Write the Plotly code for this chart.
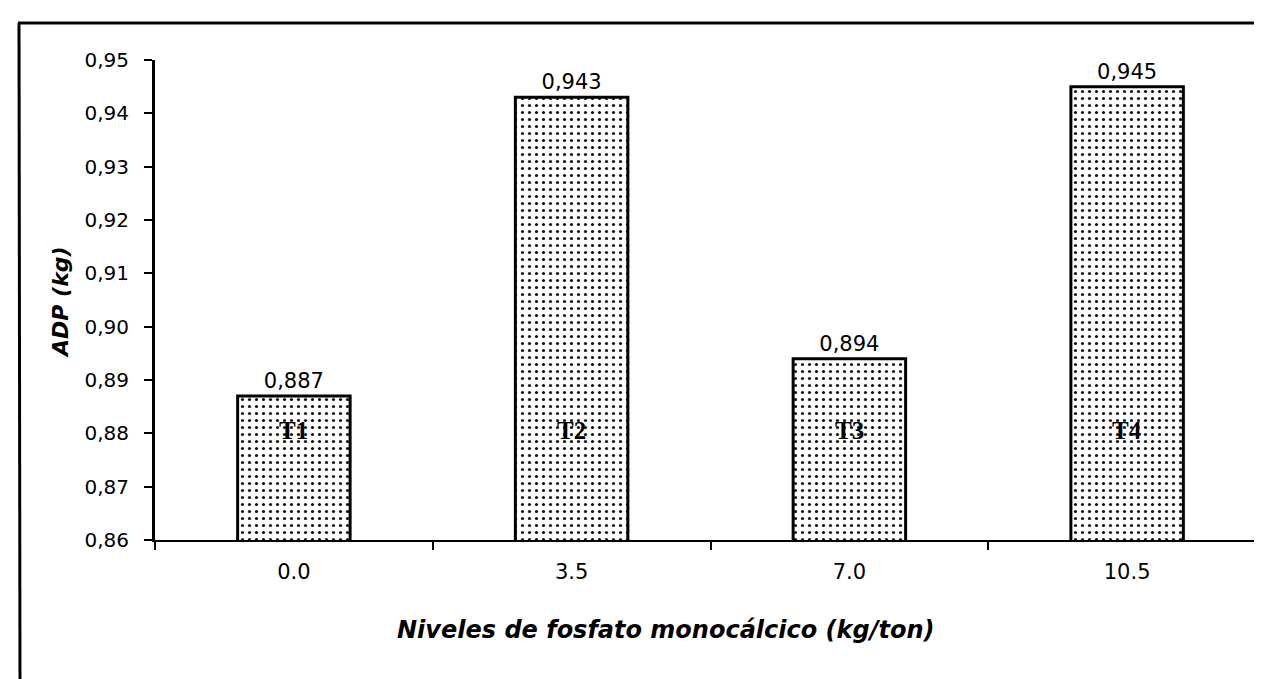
import plotly.graph_objects as go

categories = ["0.0", "3.5", "7.0", "10.5"]
values = [0.887, 0.943, 0.894, 0.945]
treatments = ["T1", "T2", "T3", "T4"]
y_ticks = [0.86, 0.87, 0.88, 0.89, 0.90, 0.91, 0.92, 0.93, 0.94, 0.95]

W, H = 1262, 679
L, R, T, B = 147, 4, 52, 147
pw, ph = W - L - R, H - T - B


def px_x(x):
    return (x - L) / pw


def px_y(y):
    return (H - B - y) / ph


fig = go.Figure()
fig.add_trace(go.Bar(
    x=categories,
    y=values,
    width=0.405,
    marker=dict(
        color="white",
        line=dict(color="black", width=3),
        pattern=dict(shape=".", fgcolor="#111111", bgcolor="white",
                     size=7, solidity=0.16, fillmode="replace"),
    ),
    texttemplate="%{y:.3f}",
    textposition="outside",
    constraintext="none",
    textfont=dict(family="DejaVu Sans", size=21, color="black"),
    cliponaxis=False,
    showlegend=False,
))

annotations = []
for i, t in enumerate(treatments):
    annotations.append(dict(
        x=i, y=0.8805, xref="x", yref="y", text="<b>" + t + "</b>",
        showarrow=False, xanchor="center", yanchor="middle",
        font=dict(family="Liberation Serif", size=25, color="black"),
    ))

annotations.append(dict(
    x=px_x(52), y=px_y(294), xref="paper", yref="paper",
    xanchor="center", yanchor="middle",
    text="<b><i>ADP (kg)</i></b>", textangle=-90, showarrow=False,
    font=dict(family="DejaVu Sans", size=22, color="black"),
))
annotations.append(dict(
    x=px_x(658), y=px_y(622), xref="paper", yref="paper",
    xanchor="center", yanchor="middle",
    text="<b><i>Niveles de fosfato monocálcico (kg/ton)</i></b>", showarrow=False,
    font=dict(family="DejaVu Sans", size=24, color="black"),
))

shapes = [
    dict(type="line", xref="paper", yref="paper",
         x0=px_x(10), y0=px_y(15), x1=px_x(1262), y1=px_y(15),
         line=dict(color="black", width=3)),
    dict(type="line", xref="paper", yref="paper",
         x0=px_x(11), y0=px_y(15), x1=px_x(12), y1=px_y(679),
         line=dict(color="black", width=3)),
]

fig.update_layout(
    width=W, height=H,
    margin=dict(l=L, r=R, t=T, b=B, pad=0),
    paper_bgcolor="white", plot_bgcolor="white",
    separators=",.",
    annotations=annotations,
    shapes=shapes,
    xaxis=dict(
        type="category",
        range=[-0.5, len(categories) - 0.5],
        tickson="boundaries",
        ticks="outside", ticklen=8, tickwidth=2, tickcolor="black",
        showline=True, linecolor="black", linewidth=2,
        showgrid=False,
        tickfont=dict(family="DejaVu Sans", size=21, color="black"),
        ticklabelstandoff=12,
    ),
    yaxis=dict(
        range=[0.86, 0.95],
        tickvals=y_ticks,
        tickformat=".2f",
        ticks="outside", ticklen=8, tickwidth=2, tickcolor="black",
        showline=True, linecolor="black", linewidth=3,
        showgrid=False, zeroline=False,
        tickfont=dict(family="DejaVu Sans", size=20, color="black"),
        ticklabelstandoff=11,
    ),
)

fig.write_html("out.html")
